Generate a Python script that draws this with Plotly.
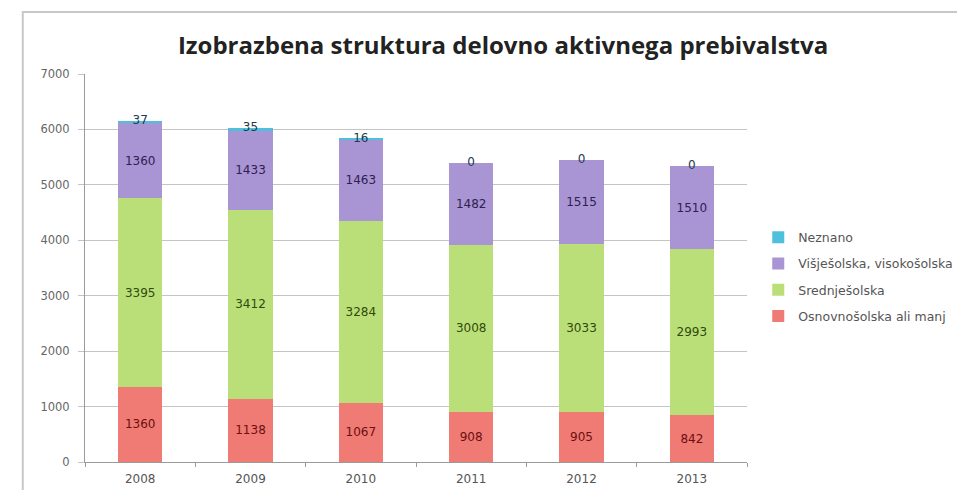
import plotly.graph_objects as go
import numpy as np

years = ["2008", "2009", "2010", "2011", "2012", "2013"]
osnovno = [1360, 1138, 1067, 908, 905, 842]
srednje = [3395, 3412, 3284, 3008, 3033, 2993]
visje = [1360, 1433, 1463, 1482, 1515, 1510]
neznano = [37, 35, 16, 0, 0, 0]

names = ["Osnovnošolska ali manj", "Srednješolska", "Višješolska, visokošolska", "Neznano"]
colors = ["#f07a74", "#bbdf78", "#a994d4", "#4fc0dc"]
textcolors = ["#6b1010", "#2f4a0a", "#2e2150", "#1e3a50"]
ranks = [4, 3, 2, 1]

FONT = "DejaVu Sans"
fig = go.Figure()
series = [osnovno, srednje, visje]
for i, (vals, name, col, tc) in enumerate(zip(series, names[:3], colors[:3], textcolors[:3])):
    fig.add_trace(go.Bar(
        x=years, y=vals, name=name, legendgroup=f"g{i}", legendrank=ranks[i],
        marker=dict(color=col, line=dict(width=0)),
        text=[str(v) for v in vals], textposition="inside", insidetextanchor="middle",
        textangle=0, textfont=dict(family=FONT, size=12, color=tc), width=0.4,
    ))
fig.add_trace(go.Bar(
    x=years, y=neznano, name=names[3], legendgroup="g3", legendrank=ranks[3],
    marker=dict(color=colors[3], line=dict(width=0)),
    width=0.4, hoverinfo="skip",
))
totals = (np.array(osnovno) + np.array(srednje) + np.array(visje) + np.array(neznano)).tolist()
fig.add_trace(go.Scatter(
    x=years, y=totals, mode="text", text=[str(v) for v in neznano],
    textposition="middle center", textfont=dict(family=FONT, size=12, color="#1e3a50"),
    showlegend=False, hoverinfo="skip",
))

fig.update_layout(
    barmode="stack",
    width=965, height=490,
    margin=dict(l=77, r=226, t=66, b=36),
    paper_bgcolor="white", plot_bgcolor="white",
    title=dict(text="<b>Izobrazbena struktura delovno aktivnega prebivalstva</b>",
               x=0.513, xanchor="center", y=0.924, yanchor="middle",
               font=dict(family="Open Sans", size=24, color="#222222")),
    legend=dict(x=1.017, y=0.478, xanchor="left", yanchor="middle", traceorder="grouped",
                font=dict(family=FONT, size=12.5, color="#555555"), tracegroupgap=7,
                bgcolor="rgba(0,0,0,0)"),
    uniformtext=dict(minsize=11, mode="show"),
    shapes=[dict(type="rect", xref="paper", yref="paper", x0=-0.094, x1=1.6, y0=-0.3, y1=1.16,
                 line=dict(color="#c8c8c8", width=2), layer="below")],
)
fig.update_xaxes(type="category", showgrid=False, showline=True, linecolor="#9a9a9a", linewidth=1,
                 ticks="outside", tickson="boundaries", ticklen=4, tickcolor="#9a9a9a",
                 ticklabelstandoff=6,
                 tickfont=dict(family=FONT, size=12, color="#555555"))
fig.update_yaxes(range=[0, 7000], dtick=1000, showgrid=True, gridcolor="#c4c4c4", gridwidth=1,
                 showline=True, linecolor="#9a9a9a", linewidth=1, ticks="outside", ticklen=6,
                 tickcolor="#c4c4c4", zeroline=False, ticklabelstandoff=6,
                 tickfont=dict(family=FONT, size=11.5, color="#666666"))

fig.write_html("out.html")
